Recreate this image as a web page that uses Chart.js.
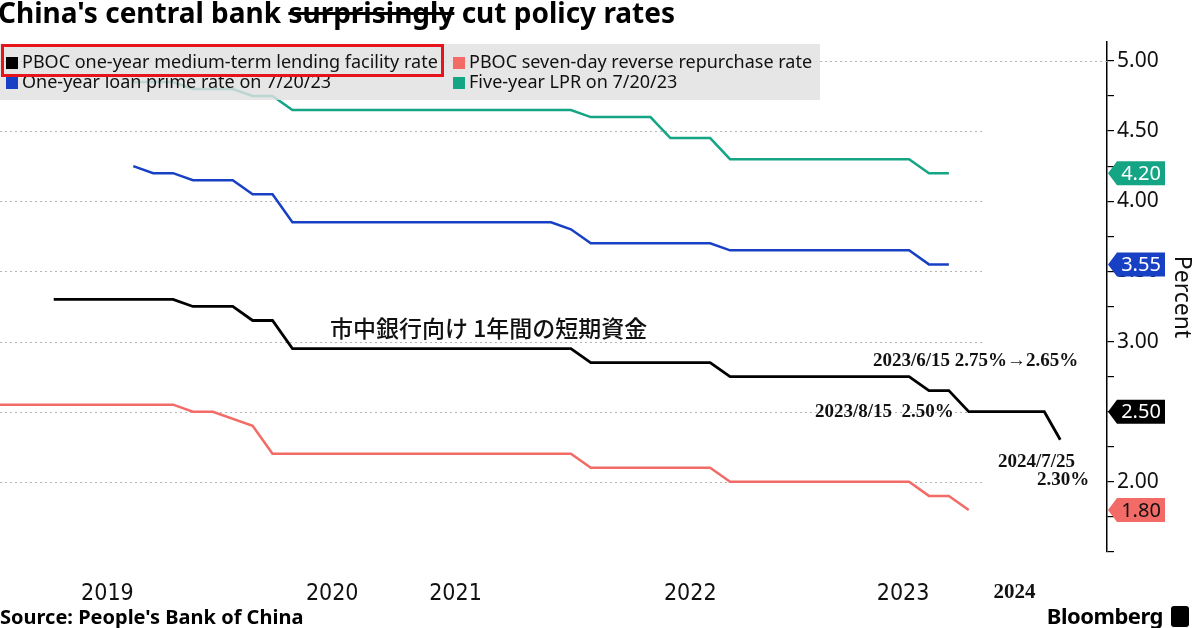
<!DOCTYPE html>
<html>
<head>
<meta charset="utf-8">
<script src="https://cdn.jsdelivr.net/npm/chart.js@4.4.0/dist/chart.umd.min.js"></script>
<style>
    html, body { margin: 0; padding: 0; background: #fff; }
    #wrap { position: relative; width: 1195px; height: 628px; overflow: hidden; font-family: "Noto Sans", sans-serif; }
    #chart { position: absolute; left: 0; top: 0; }
    .title { position: absolute; left: -2px; top: -7px; font-size: 28px; font-weight: bold; color: #000; white-space: nowrap; }
    .title s { text-decoration-thickness: 3px; }
    .legend { position: absolute; left: 0; top: 44px; width: 820px; height: 56px; background: rgba(224, 224, 224, 0.82); }
    .item { position: absolute; font-size: 18px; color: #111; white-space: nowrap; line-height: 20px; }
    .item i { display: inline-block; width: 12px; height: 12px; margin-right: 4px; vertical-align: -1px; }
    .redbox { position: absolute; left: 1px; top: 44px; width: 437px; height: 27px; border: 3px solid #e8141c; }
    .note { position: absolute; font-family: "Liberation Serif", serif; font-weight: bold; font-size: 19px; color: #111; white-space: nowrap; }
    .jp { position: absolute; left: 330px; top: 310px; font-family: "Noto Sans CJK JP", sans-serif; font-size: 23px; font-weight: 500; color: #111; white-space: nowrap; }
    .source { position: absolute; left: 0; top: 603px; font-size: 20px; font-weight: bold; color: #000; }
    .brand { position: absolute; right: 6px; top: 600px; font-size: 22px; font-weight: bold; color: #000; letter-spacing: -0.5px; }
    .brand b { display: inline-block; width: 18px; height: 21px; background: #000; border-radius: 3px; vertical-align: -3px; margin-left: 8px; }
</style>
</head>
<body>
<div id="wrap">
    <canvas id="chart" width="1195" height="628"></canvas>
    <div class="title">China's central bank <s>surprisingly</s> cut policy rates</div>
    <div class="legend"></div>
    <div class="item" style="left:6px; top:51px;"><i style="background:#000"></i>PBOC one-year medium-term lending facility rate</div>
    <div class="item" style="left:453px; top:51px;"><i style="background:#f26b66"></i>PBOC seven-day reverse repurchase rate</div>
    <div class="item" style="left:6px; top:71px;"><i style="background:#1840c4"></i>One-year loan prime rate on 7/20/23</div>
    <div class="item" style="left:453px; top:71px;"><i style="background:#14a585"></i>Five-year LPR on 7/20/23</div>
    <div class="redbox"></div>
    <div class="jp">市中銀行向け 1年間の短期資金</div>
    <div class="note" style="left:873px; top:349px;">2023/6/15 2.75%→2.65%</div>
    <div class="note" style="left:815px; top:400px;">2023/8/15&nbsp;&nbsp;2.50%</div>
    <div class="note" style="left:998px; top:450px;">2024/7/25</div>
    <div class="note" style="left:1037px; top:468px;">2.30%</div>
    <div class="source">Source: People's Bank of China</div>
    <div class="brand">Bloomberg<b></b></div>
</div>

<script>
const mlfX = [3, 9, 10, 12, 13, 14, 15, 29, 30, 36, 37, 46, 47, 48, 49, 52.8, 53.6];
const mlfY = [3.30, 3.30, 3.25, 3.25, 3.15, 3.15, 2.95, 2.95, 2.85, 2.85, 2.75, 2.75, 2.65, 2.65, 2.50, 2.50, 2.30];

const repoX = [0, 9, 10, 11, 13, 14, 29, 30, 36, 37, 46, 47, 48, 49];
const repoY = [2.55, 2.55, 2.50, 2.50, 2.40, 2.20, 2.20, 2.10, 2.10, 2.00, 2.00, 1.90, 1.90, 1.80];

const lpr1X = [7, 8, 9, 10, 12, 13, 14, 15, 28, 29, 30, 36, 37, 46, 47, 48];
const lpr1Y = [4.25, 4.20, 4.20, 4.15, 4.15, 4.05, 4.05, 3.85, 3.85, 3.80, 3.70, 3.70, 3.65, 3.65, 3.55, 3.55];

const lpr5X = [7, 9, 10, 12, 13, 14, 15, 29, 30, 33, 34, 36, 37, 46, 47, 48];
const lpr5Y = [4.85, 4.85, 4.80, 4.80, 4.75, 4.75, 4.65, 4.65, 4.60, 4.60, 4.45, 4.45, 4.30, 4.30, 4.20, 4.20];

const yearPos = [5.7, 17.0, 23.2, 35.0, 45.7, 51.3];
const yearLabels = ['2019', '2020', '2021', '2022', '2023', '2024'];

const yTickValues = [1.5, 1.75, 2, 2.25, 2.5, 2.75, 3, 3.25, 3.5, 3.75, 4, 4.25, 4.5, 4.75, 5];

// value tags on the right axis
const badgeValues = [2.50, 1.80, 3.55, 4.20];
const badgeColors = ['#000000', '#f26b66', '#1840c4', '#14a585'];
const badgeText = ['#ffffff', '#111111', '#ffffff', '#ffffff'];

function toPoints(xs, ys) {
    return xs.map((x, i) => ({ x: x, y: ys[i] }));
}

const gridPlugin = {
    id: 'dottedGrid',
    beforeDatasetsDraw(chart) {
        const { ctx, chartArea, scales } = chart;
        const endX = scales.x.getPixelForValue(49.8);
        ctx.save();
        ctx.strokeStyle = '#b5b5b5';
        ctx.lineWidth = 1;
        ctx.setLineDash([2, 3]);
        yTickValues.filter(v => v % 0.5 === 0 && v > 1.5).forEach(v => {
            const y = Math.round(scales.y.getPixelForValue(v)) + 0.5;
            ctx.beginPath();
            ctx.moveTo(chartArea.left, y);
            ctx.lineTo(v === 5 ? chartArea.right : endX, y);
            ctx.stroke();
        });
        ctx.restore();
    }
};

const badgePlugin = {
    id: 'badges',
    afterDraw(chart) {
        const { ctx, chartArea, scales } = chart;
        const x0 = chartArea.right + 1;
        ctx.save();
        badgeValues.forEach((v, i) => {
            const y = scales.y.getPixelForValue(v);
            ctx.beginPath();
            ctx.moveTo(x0, y);
            ctx.lineTo(x0 + 9, y - 12);
            ctx.lineTo(x0 + 57, y - 12);
            ctx.lineTo(x0 + 57, y + 12);
            ctx.lineTo(x0 + 9, y + 12);
            ctx.closePath();
            ctx.fillStyle = badgeColors[i];
            ctx.fill();
            ctx.fillStyle = badgeText[i];
            ctx.font = '20px "Noto Sans", sans-serif';
            ctx.textAlign = 'center';
            ctx.textBaseline = 'middle';
            ctx.fillText(v.toFixed(2), x0 + 33, y + 1);
        });
        ctx.restore();
    }
};

const ctx = document.getElementById('chart').getContext('2d');
new Chart(ctx, {
    type: 'line',
    data: {
        datasets: [
            { label: 'PBOC one-year medium-term lending facility rate', data: toPoints(mlfX, mlfY), borderColor: '#000000', borderWidth: 2.8 },
            { label: 'PBOC seven-day reverse repurchase rate', data: toPoints(repoX, repoY), borderColor: '#f26b66', borderWidth: 2.5 },
            { label: 'One-year loan prime rate on 7/20/23', data: toPoints(lpr1X, lpr1Y), borderColor: '#1840c4', borderWidth: 2.5 },
            { label: 'Five-year LPR on 7/20/23', data: toPoints(lpr5X, lpr5Y), borderColor: '#14a585', borderWidth: 2.5 }
        ]
    },
    options: {
        responsive: false,
        animation: false,
        events: [],
        layout: { padding: { top: 42, left: 0, right: 0, bottom: 22 } },
        elements: { point: { radius: 0 }, line: { tension: 0 } },
        plugins: {
            legend: { display: false },
            tooltip: { enabled: false }
        },
        scales: {
            x: {
                type: 'linear',
                min: 0.3,
                max: 55.95,
                grid: { display: false, drawTicks: false },
                border: { display: false },
                afterBuildTicks: scale => { scale.ticks = yearPos.map(v => ({ value: v })); },
                afterFit: scale => { scale.height = 54; },
                ticks: {
                    autoSkip: false,
                    maxRotation: 0,
                    padding: 28,
                    color: '#111',
                    callback: (value, index) => yearLabels[index],
                    font: c => c.index === 5
                        ? { family: '"Liberation Serif", serif', size: 21, weight: 'bold' }
                        : { family: '"Liberation Sans Narrow", "DejaVu Sans Condensed", sans-serif', size: 23 }
                }
            },
            y: {
                position: 'right',
                min: 1.5,
                max: 5.135,
                grid: { display: true, drawOnChartArea: false, drawTicks: true, tickLength: 7, color: '#000', lineWidth: 1.2 },
                border: { display: true, color: '#000', width: 1.5 },
                afterBuildTicks: scale => { scale.ticks = yTickValues.map(v => ({ value: v })); },
                afterFit: scale => { scale.width = 88; },
                ticks: {
                    padding: 3,
                    color: '#111',
                    font: { family: '"Noto Sans", sans-serif', size: 21 },
                    callback: v => (v % 0.5 === 0 && v > 1.5) ? v.toFixed(2) : ''
                },
                title: {
                    display: true,
                    text: 'Percent',
                    color: '#111',
                    font: { family: '"Noto Sans", sans-serif', size: 23 },
                    padding: { top: 0, bottom: 0 }
                }
            }
        }
    },
    plugins: [gridPlugin, badgePlugin]
});
</script>
</body>
</html>
